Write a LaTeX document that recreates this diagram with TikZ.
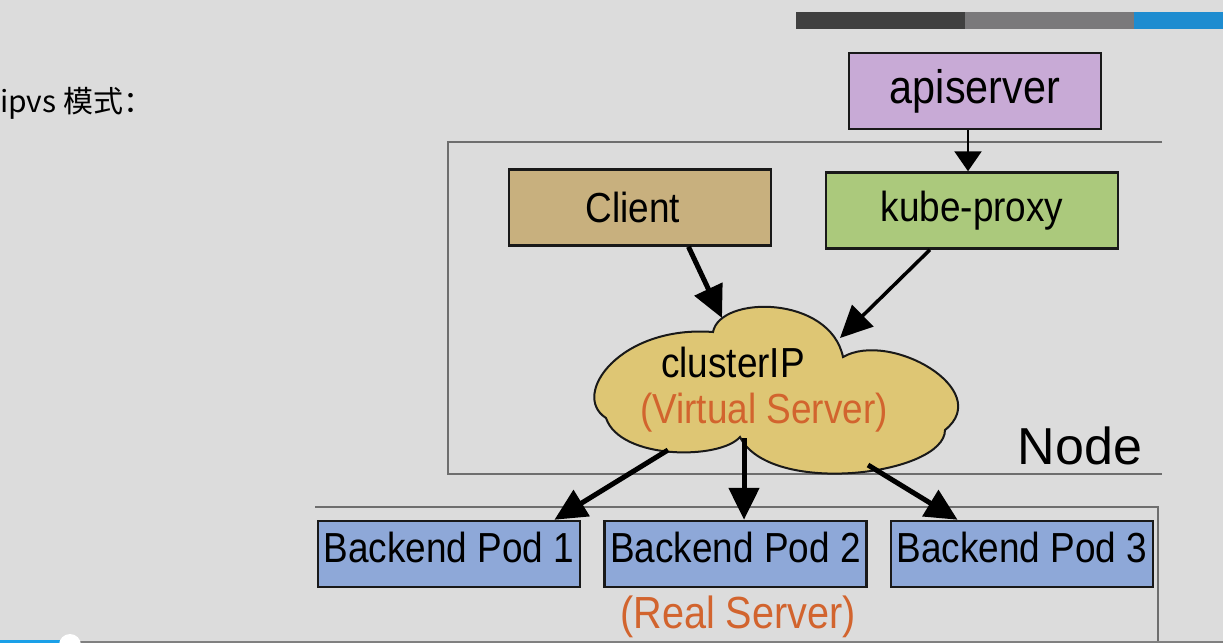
\documentclass[tikz,border=0pt]{standalone}
\usepackage{fontspec}
\setmainfont{Liberation Sans}
\newfontfamily\slidefont{Liberation Sans}[FakeStretch=0.88]
\newfontfamily\cjkfont{Noto Sans CJK SC}
\usetikzlibrary{arrows.meta}
\definecolor{slidegray}{HTML}{DCDCDC}
\definecolor{framegray}{HTML}{6E6E6E}
\definecolor{apipurple}{HTML}{C8AAD6}
\definecolor{clienttan}{HTML}{C8B07E}
\definecolor{proxygreen}{HTML}{ABC97C}
\definecolor{cloudyellow}{HTML}{DEC674}
\definecolor{podblue}{HTML}{8EA8D8}
\definecolor{realorange}{HTML}{D2642E}
\definecolor{bardark}{HTML}{404040}
\definecolor{barmid}{HTML}{7A797B}
\definecolor{barblue}{HTML}{1E8CD0}
\definecolor{progblue}{HTML}{1AA0E8}

\begin{document}
\begin{tikzpicture}[x=1pt,y=-1pt,
  box/.style={draw=black!90,line width=2.5pt,inner sep=0pt,minimum height=76pt,font=\slidefont\fontsize{42}{48}\selectfont},
  pod/.style={box,fill=podblue,minimum width=262pt,minimum height=66pt,text depth=14pt},
  frame/.style={draw=framegray,line width=1.5pt},
  fat/.style={line width=5pt,-{Triangle[length=32pt,width=30pt]}}]
\useasboundingbox (0,0) rectangle (1223,643);
\fill[slidegray] (0,0) rectangle (1223,643);
\fill[bardark] (796,12) rectangle (965,29);
\fill[barmid] (965,12) rectangle (1134,29);
\fill[barblue] (1134,12) rectangle (1223,29);
\node[anchor=west,inner sep=0pt,font=\cjkfont\fontsize{30}{34}\selectfont] (mode) at (0,103) {ipvs 模式：};
\draw[frame] (1162,142) -- (448,142) -- (448,474) -- (1162,474);
\draw[frame] (315,507) -- (1158,507) -- (1158,643);
\node[font=\fontsize{52}{60}\selectfont] (nodelbl) at (1080,446) {Node};
\filldraw[fill=cloudyellow,draw=black!90,line width=2pt] (606,418)
  .. controls (570,395) and (620,325) .. (713,332)
  .. controls (720,295) and (830,295) .. (843,357)
  .. controls (890,330) and (995,390) .. (945,430)
  .. controls (945,475) and (770,497) .. (740,437)
  .. controls (720,460) and (620,460) .. (606,418) -- cycle;
\node[font=\slidefont\fontsize{42}{48}\selectfont] (cip) at (733,362) {clusterIP};
\node[font=\slidefont\fontsize{42}{48}\selectfont,text=realorange] (vs) at (764,413) {(Virtual Server)};
\coordinate (cin1) at (722,318);
\coordinate (cin2) at (840,338);
\coordinate (cout1) at (668,450);
\coordinate (cout2) at (744,438);
\coordinate (cout3) at (868,465);
\node[box,fill=apipurple,minimum width=252pt,font=\slidefont\fontsize{47}{54}\selectfont] (api) at (975,91) {apiserver};
\node[box,fill=clienttan,minimum width=262pt] (client) at (640,207.5) {\hspace*{-14pt}Client};
\node[box,fill=proxygreen,minimum width=292pt] (proxy) at (972,210.5) {kube-proxy};
\node[pod] (pod1) at (449,554) {Backend Pod 1};
\node[pod] (pod2) at (735.5,554) {Backend Pod 2};
\node[pod] (pod3) at (1022,554) {Backend Pod 3};
\node[font=\slidefont\fontsize{45}{52}\selectfont,text=realorange] (rs) at (738,617) {(Real Server)};
\draw[line width=2.5pt,-{Triangle[length=20pt,width=27pt]}] (api.south -| 968,0) -- (proxy.north -| 968,0);
\draw[fat] (client.-39) -- (cin1);
\draw[fat,line width=3.5pt] (proxy.223) -- (cin2);
\draw[fat] (cout1) -- (pod1.18);
\draw[fat] (cout2) -- (cout2 |- pod2.north);
\draw[fat] (cout3) -- (pod3.152);
\draw[progblue,line width=3pt] (0,641.5) -- (60,641.5);
\draw[gray,line width=2pt] (80,642) -- (1223,642);
\fill[white] (70,645) circle (11);
\end{tikzpicture}
\end{document}
